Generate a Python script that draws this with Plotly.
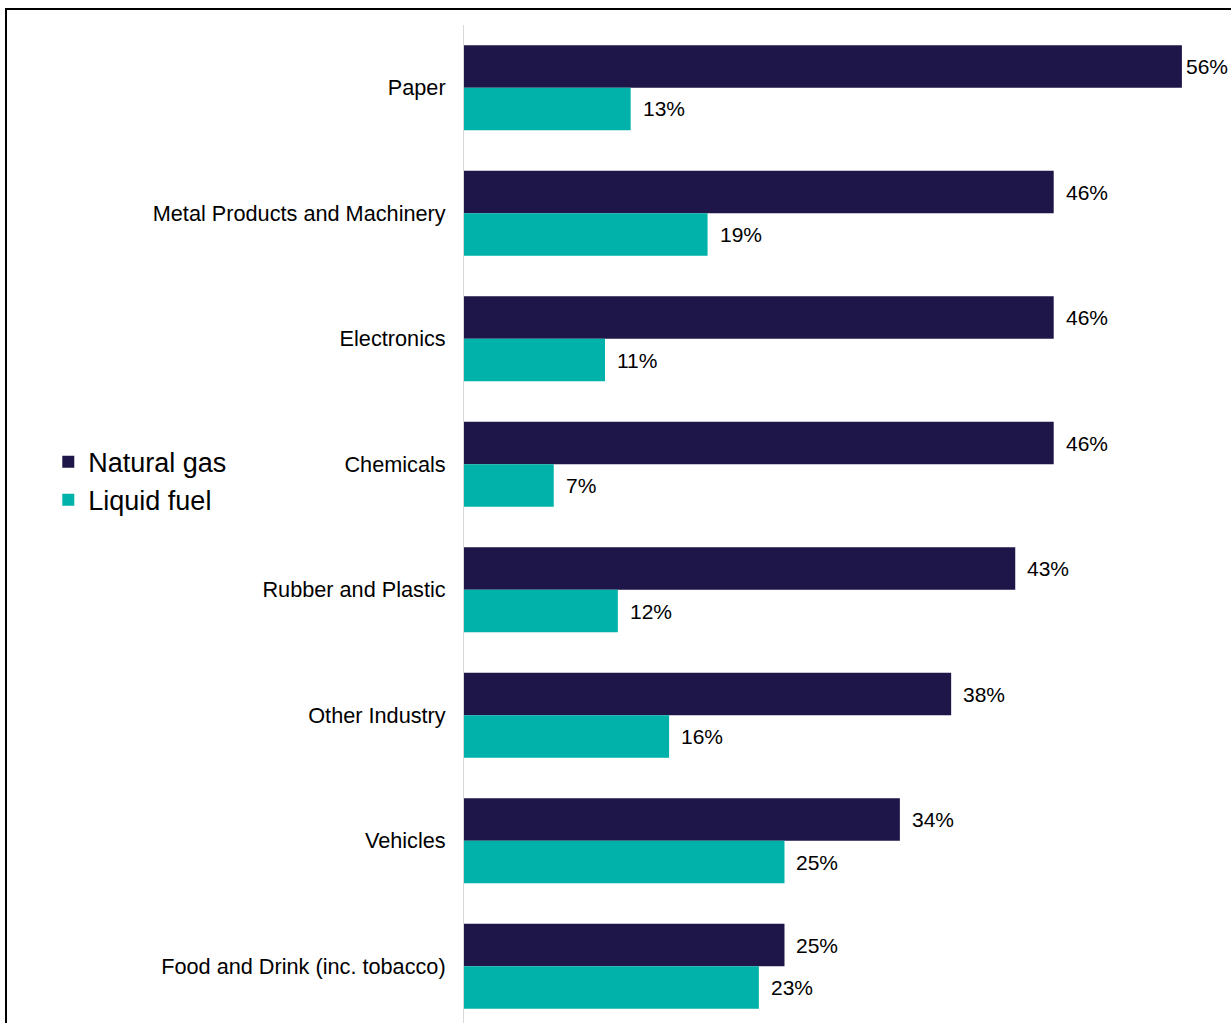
import plotly.graph_objects as go

# Share of sector energy use by fuel (%)
sectors = [
    "Paper",
    "Metal Products and Machinery",
    "Electronics",
    "Chemicals",
    "Rubber and Plastic",
    "Other Industry",
    "Vehicles",
    "Food and Drink (inc. tobacco)",
]
natural_gas = [56, 46, 46, 46, 43, 38, 34, 25]
liquid_fuel = [13, 19, 11, 7, 12, 16, 25, 23]

NAVY = "#1E1548"
TEAL = "#00B2A9"
FONT = "Liberation Sans, Arial, Helvetica, sans-serif"

W, H = 1231, 1023
M_L, M_R, M_T, M_B = 464, 0, 25, 0
X_MAX = 59.83
Y_RANGE = [7.452, -0.5]
BARGAP = 0.323

fig = go.Figure()
fig.add_trace(go.Bar(
    y=sectors, x=natural_gas, orientation="h", name="Natural gas",
    marker=dict(color=NAVY, line=dict(width=0)), legendgroup="ng",
))
fig.add_trace(go.Bar(
    y=sectors, x=liquid_fuel, orientation="h", name="Liquid fuel",
    marker=dict(color=TEAL, line=dict(width=0)), legendgroup="lf",
))

# value labels just to the right of each bar
plot_w = W - M_L - M_R
plot_h = H - M_T - M_B
px_per_x = plot_w / X_MAX
pitch = plot_h / abs(Y_RANGE[0] - Y_RANGE[1])
bar_off = pitch * (1 - BARGAP) / 4
annotations = []
for vals, dy in ((natural_gas, bar_off), (liquid_fuel, -bar_off)):
    for cat, v in zip(sectors, vals):
        end_px = M_L + v * px_per_x
        gap = 10 if end_px + 12 + 42 <= W else 2
        annotations.append(dict(
            x=v, y=cat, xref="x", yref="y", text=f"{v}%", showarrow=False,
            xanchor="left", yanchor="middle", xshift=gap, yshift=dy,
            font=dict(family=FONT, size=21, color="#000000"),
        ))

fig.update_layout(
    width=W, height=H,
    margin=dict(l=M_L, r=M_R, t=M_T, b=M_B, pad=0),
    paper_bgcolor="white", plot_bgcolor="white",
    barmode="group", bargap=BARGAP, bargroupgap=0,
    font=dict(family=FONT, color="#000000"),
    showlegend=True,
    legend=dict(
        x=-0.542, xanchor="left", y=0.543, yanchor="middle",
        font=dict(family=FONT, size=27, color="#000000"),
        traceorder="normal", tracegroupgap=12, bgcolor="rgba(0,0,0,0)",
        itemclick=False, itemdoubleclick=False,
    ),
    xaxis=dict(
        range=[0, X_MAX], showticklabels=False, showgrid=False,
        zeroline=False, showline=False, ticks="",
    ),
    yaxis=dict(
        type="category", categoryorder="array", categoryarray=sectors,
        range=Y_RANGE, showgrid=False, zeroline=False,
        showline=True, linecolor="#D9D9D9", linewidth=1, ticks="",
        ticklabelstandoff=13,
        tickfont=dict(family=FONT, size=21.7, color="#000000"),
    ),
    annotations=annotations,
    shapes=[dict(
        type="rect", xref="paper", yref="paper",
        x0=(6 - M_L) / plot_w, x1=1.1,
        y0=-0.1, y1=1 + (M_T - 9) / plot_h,
        line=dict(color="#000000", width=2), fillcolor="rgba(0,0,0,0)",
        layer="above",
    )],
)

fig.write_html("out.html")
